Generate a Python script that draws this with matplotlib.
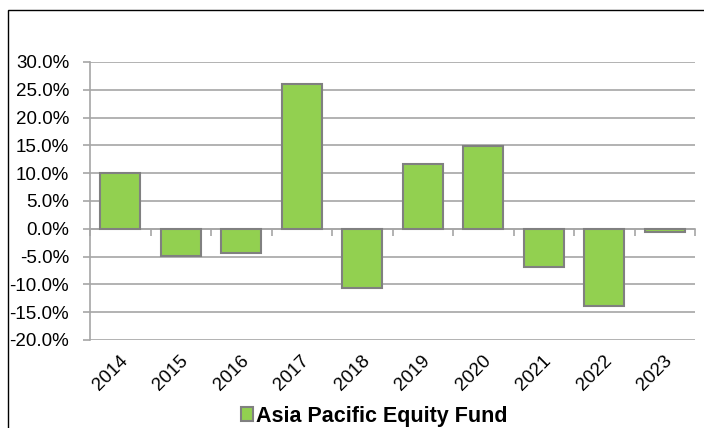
import matplotlib
matplotlib.use("Agg")
import matplotlib.pyplot as plt
import matplotlib.transforms as mtransforms
from matplotlib.patches import Patch, Rectangle
from matplotlib.ticker import FuncFormatter

years = ["2014", "2015", "2016", "2017", "2018", "2019", "2020", "2021", "2022", "2023"]
returns = [10.0, -4.9, -4.4, 26.0, -10.6, 11.7, 14.9, -6.9, -13.9, -0.5]
series_name = "Asia Pacific Equity Fund"
y_ticks = [-20, -15, -10, -5, 0, 5, 10, 15, 20, 25, 30]

bar_green = "#92D050"
edge_grey = "#808080"
grid_grey = "#A6A6A6"

plt.rcParams["font.family"] = ["Liberation Sans", "DejaVu Sans"]

fig = plt.figure(figsize=(7.04, 4.28), dpi=100)
ax = fig.add_axes([90 / 704, 1 - 340 / 428, 605 / 704, 278 / 428])

# outer chart-area frame (only top and left edge visible in the picture)
fig.patches.append(Rectangle((8 / 704, -0.1), 1.2, (428 - 10) / 428 + 0.1,
                             transform=fig.transFigure, fill=False,
                             edgecolor="black", linewidth=1.0))

xs = list(range(len(years)))
ax.bar(xs, returns, width=0.66, color=bar_green, edgecolor=edge_grey,
       linewidth=1.5, zorder=3)

ax.set_xlim(-0.5, len(years) - 0.5)
ax.set_ylim(y_ticks[0], y_ticks[-1])
ax.set_yticks(y_ticks)
ax.yaxis.set_major_formatter(FuncFormatter(lambda v, p: f"{v:.1f}%"))
ax.yaxis.grid(True, color=grid_grey, linewidth=1.2, zorder=0)
ax.tick_params(axis="y", length=5, color=grid_grey, width=1.2,
               labelsize=13.5, pad=10)

for s in ["top", "right"]:
    ax.spines[s].set_visible(False)
ax.spines["left"].set_color(grid_grey)
ax.spines["left"].set_linewidth(1.2)
ax.spines["bottom"].set_position(("data", 0))
ax.spines["bottom"].set_color(grid_grey)
ax.spines["bottom"].set_linewidth(1.2)

# category axis on the zero line: ticks between categories, labels at bottom
ax.set_xticks([x - 0.5 for x in xs] + [len(years) - 0.5])
ax.set_xticklabels([])
ax.tick_params(axis="x", length=5, color=grid_grey, width=1.2, direction="out")

trans = mtransforms.blended_transform_factory(ax.transData, ax.transAxes)
for x, lab in zip(xs, years):
    ax.text(x - 0.02, -0.045, lab, transform=trans, rotation=45,
            ha="right", va="top", rotation_mode="anchor", fontsize=13.5)

handle = Patch(facecolor=bar_green, edgecolor=edge_grey, linewidth=1.5)
fig.legend([handle], [series_name], loc="center", bbox_to_anchor=(0.531, 0.028),
           frameon=False, handlelength=0.6, handleheight=0.6, handletextpad=0.1,
           prop={"weight": "bold", "size": 15.5})

fig.savefig("out.png", dpi=100)
